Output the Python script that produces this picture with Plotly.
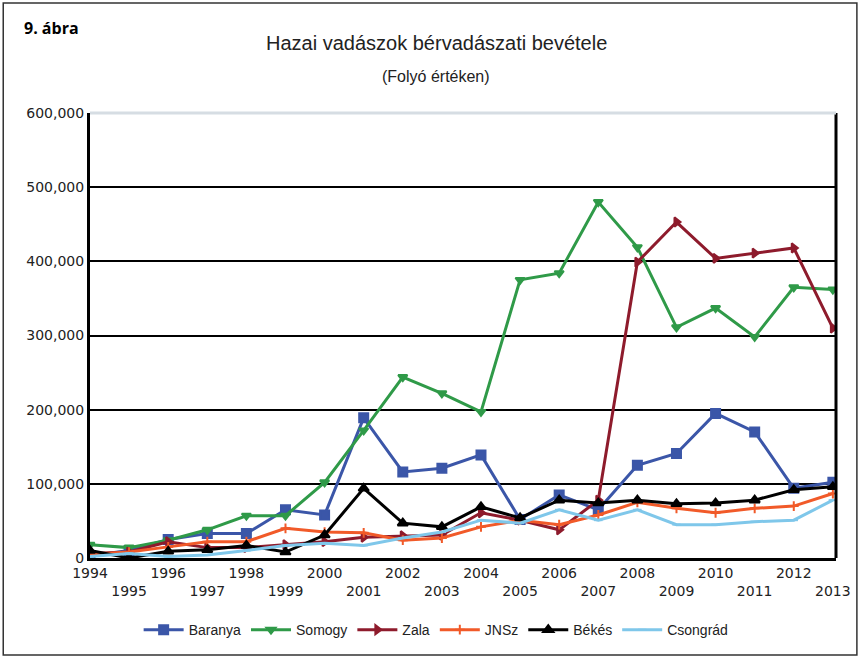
import plotly.graph_objects as go

years = list(range(1994, 2014))

baranya = [3000, 10000, 25000, 33000, 33000, 65000, 58000, 189000, 116000, 121000,
           139000, 52000, 85000, 65000, 125000, 141000, 195000, 170000, 94000, 102000]
somogy = [18000, 14000, 24000, 38000, 57000, 57000, 102000, 172000, 244000, 222000,
          197000, 375000, 384000, 480000, 419000, 311000, 337000, 298000, 365000, 362000]
zala = [6000, 8000, 22000, 14000, 14000, 18000, 22000, 28000, 30000, 31000,
        61000, 51000, 38000, 78000, 399000, 453000, 404000, 411000, 418000, 310000]
jnsz = [5000, 8000, 15000, 22000, 22000, 40000, 35000, 34000, 24000, 27000,
        42000, 51000, 45000, 58000, 75000, 67000, 61000, 67000, 70000, 87000]
bekes = [10000, 0, 9000, 11000, 17000, 8000, 31000, 94000, 47000, 42000,
         69000, 54000, 78000, 74000, 78000, 73000, 74000, 78000, 92000, 96000]
csongrad = [2000, 6000, 2000, 4000, 10000, 17000, 20000, 17000, 27000, 35000,
            51000, 47000, 65000, 51000, 65000, 45000, 45000, 49000, 51000, 78000]

series = [
    ("Baranya", baranya, "#3b56a8", "square", 9),
    ("Somogy", somogy, "#2f9a48", "triangle-down", 8),
    ("Zala", zala, "#8e1b2c", "triangle-right", 8),
    ("JNSz", jnsz, "#f15a29", "cross-thin", 7),
    ("Békés", bekes, "#000000", "triangle-up", 9),
    ("Csongrád", csongrad, "#7fc7ea", "line-ew", 6),
]

FONT = "Liberation Sans, Arial, sans-serif"
TICKFONT = "DejaVu Sans, sans-serif"

fig = go.Figure()
for name, vals, color, sym, size in series:
    fig.add_trace(go.Scatter(
        x=years, y=vals, name=name, mode="lines+markers",
        line=dict(color=color, width=3),
        marker=dict(symbol=sym, size=size, color=color,
                    line=dict(color=color, width=2)),
    ))

ticktext = [str(y) if y % 2 == 0 else "<br>" + str(y) for y in years]

fig.update_layout(
    width=863, height=658,
    margin=dict(l=90, r=25, t=113, b=100),
    paper_bgcolor="white", plot_bgcolor="white",
    font=dict(family=FONT, size=13, color="#222222"),
    showlegend=True,
    legend=dict(orientation="h", x=0.464, xanchor="center", y=-0.162, yanchor="middle",
                font=dict(family=FONT, size=14, color="#222222"), itemwidth=40,
                tracegroupgap=0),
    xaxis=dict(range=[1994, 2013.08], tickvals=years, ticktext=ticktext,
               showgrid=False, showline=True, linecolor="black", linewidth=3,
               ticks="", tickfont=dict(family=TICKFONT, size=14, color="#222222"),
               zeroline=False),
    yaxis=dict(range=[0, 600000], tickvals=list(range(0, 600001, 100000)),
               tickformat=",", showgrid=True, gridcolor="black", gridwidth=2,
               showline=True, linecolor="black", linewidth=3, zeroline=False,
               ticks="", tickfont=dict(family=TICKFONT, size=14, color="#222222")),
    shapes=[
        dict(type="line", xref="paper", yref="paper", x0=1, x1=1, y0=0, y1=1,
             line=dict(color="black", width=3), layer="above"),
        dict(type="line", xref="paper", yref="paper", x0=0, x1=1, y0=1, y1=1,
             line=dict(color="#d6dde3", width=3), layer="above"),
        dict(type="rect", xref="paper", yref="paper", x0=-0.1163, x1=1.028,
             y0=-0.218, y1=1.247, line=dict(color="#333333", width=1.5)),
    ],
    annotations=[
        dict(text="<b>9. ábra</b>", xref="paper", yref="paper", x=-0.0909, y=1.191,
             xanchor="left", yanchor="middle", showarrow=False,
             font=dict(family="Open Sans, sans-serif", size=16, color="black")),
        dict(text="Hazai vadászok bérvadászati bevétele", xref="paper", yref="paper",
             x=0.464, y=1.157, xanchor="center", yanchor="middle", showarrow=False,
             font=dict(family=FONT, size=20, color="#222222")),
        dict(text="(Folyó értéken)", xref="paper", yref="paper",
             x=0.464, y=1.081, xanchor="center", yanchor="middle", showarrow=False,
             font=dict(family=FONT, size=16, color="#222222")),
    ],
)

fig.write_html("out.html", config={"displayModeBar": False},
               post_script="document.body.style.margin='0';")
